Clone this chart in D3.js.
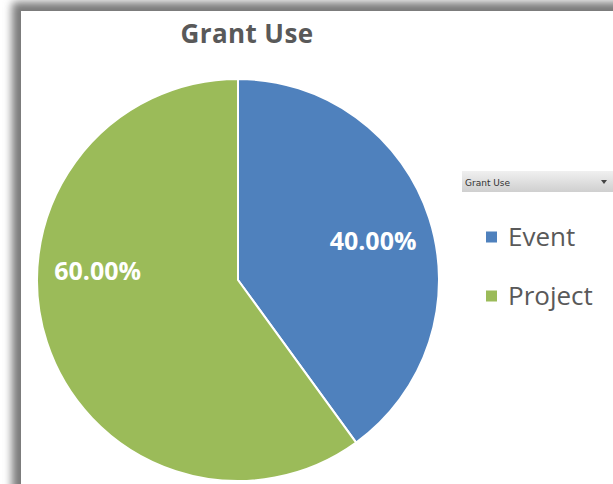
<!DOCTYPE html>
<html>
<head>
<meta charset="utf-8">
<script src="https://cdn.jsdelivr.net/npm/d3@7"></script>
<style>
  html, body { margin: 0; padding: 0; background: #fff; overflow: hidden; }
  svg { display: block; font-family: "Open Sans", "Noto Sans", sans-serif; }
</style>
</head>
<body>
<svg id="chart" width="613" height="484"></svg>
<script>
// Grant use breakdown
const chartTitle = "Grant Use";
const categories = ["Event", "Project"];
const values = [40, 60];
const sliceColors = ["#4F81BD", "#9BBB59"];
const filterLabel = "Grant Use";

const svg = d3.select("#chart");
const W = 613, H = 484;

// Frame with soft drop shadow on the top and left edges
const defs = svg.append("defs");
const blur = defs.append("filter").attr("id", "soft")
  .attr("x", "-20%").attr("y", "-20%").attr("width", "140%").attr("height", "140%");
blur.append("feGaussianBlur").attr("stdDeviation", 4);

const frameX = 21, frameY = 11;
svg.append("rect").attr("x", 0).attr("y", 0).attr("width", W).attr("height", H).attr("fill", "#fff");
// shadow cast by the chart card
svg.append("rect")
  .attr("x", frameX - 9).attr("y", frameY - 9)
  .attr("width", W + 40).attr("height", H + 40)
  .attr("rx", 4)
  .attr("fill", "#7a7a7a")
  .attr("filter", "url(#soft)");
svg.append("rect").attr("x", frameX).attr("y", frameY)
  .attr("width", W - frameX).attr("height", H - frameY)
  .attr("fill", "#fff");

// Title
svg.append("text")
  .attr("x", 247).attr("y", 43)
  .attr("text-anchor", "middle")
  .attr("font-size", 26).attr("font-weight", 700)
  .attr("letter-spacing", 0.4)
  .attr("fill", "#595959")
  .text(chartTitle);

// Pie
const cx = 238, cy = 280, radius = 201;
const data = categories.map((c, i) => ({ category: c, value: values[i] }));
const pie = d3.pie().value(d => d.value).sort(null);
const arc = d3.arc().innerRadius(0).outerRadius(radius);
const color = d3.scaleOrdinal().domain(categories).range(sliceColors);
const total = d3.sum(values);

const pieG = svg.append("g").attr("transform", `translate(${cx},${cy})`);
const arcs = pie(data);
pieG.selectAll("path.slice")
  .data(arcs)
  .join("path")
  .attr("class", "slice")
  .attr("d", arc)
  .attr("fill", d => color(d.data.category))
  .attr("stroke", "#ffffff")
  .attr("stroke-width", 2);

// Percentage labels inside slices (best-fit placement pulls the
// large slice's label up toward the horizontal)
const labelR = radius * 0.7;
const labelAngle = d => {
  const mid = (d.startAngle + d.endAngle) / 2;
  return mid > Math.PI ? mid + 0.38 : mid + 0.03;
};
pieG.selectAll("text.pct")
  .data(arcs)
  .join("text")
  .attr("class", "pct")
  .attr("transform", d => {
    const a = labelAngle(d);
    return `translate(${labelR * Math.sin(a)},${-labelR * Math.cos(a)})`;
  })
  .attr("text-anchor", "middle")
  .attr("dy", "0.36em")
  .attr("font-size", 25).attr("font-weight", 700)
  .attr("fill", "#ffffff")
  .text(d => d3.format(".2%")(d.data.value / total));

// Filter drop-down
const dd = svg.append("g").attr("transform", "translate(462,171)");
const ddGrad = defs.append("linearGradient").attr("id", "ddGrad")
  .attr("x1", 0).attr("x2", 0).attr("y1", 0).attr("y2", 1);
ddGrad.append("stop").attr("offset", 0).attr("stop-color", "#f0f0f0");
ddGrad.append("stop").attr("offset", 1).attr("stop-color", "#cfcfcf");
dd.append("rect").attr("width", 151).attr("height", 21).attr("fill", "url(#ddGrad)");
dd.append("text").attr("x", 3).attr("y", 14.5)
  .attr("font-size", 9).attr("fill", "#333")
  .attr("font-family", "'DejaVu Sans', sans-serif")
  .text(filterLabel);
dd.append("path").attr("d", "M139,9 L145,9 L142,13 Z").attr("fill", "#444");

// Legend
const legend = svg.append("g").attr("transform", "translate(486,0)");
const legendY = d3.scalePoint().domain(categories).range([237, 296]);
const items = legend.selectAll("g.item").data(categories).join("g")
  .attr("class", "item")
  .attr("transform", d => `translate(0,${legendY(d)})`);
items.append("rect")
  .attr("x", 0).attr("y", -5.5).attr("width", 11).attr("height", 11)
  .attr("fill", d => color(d));
items.append("text")
  .attr("x", 22).attr("y", 0).attr("dy", "0.36em")
  .attr("font-size", 26).attr("fill", "#595959")
  .text(d => d);
</script>
</body>
</html>
